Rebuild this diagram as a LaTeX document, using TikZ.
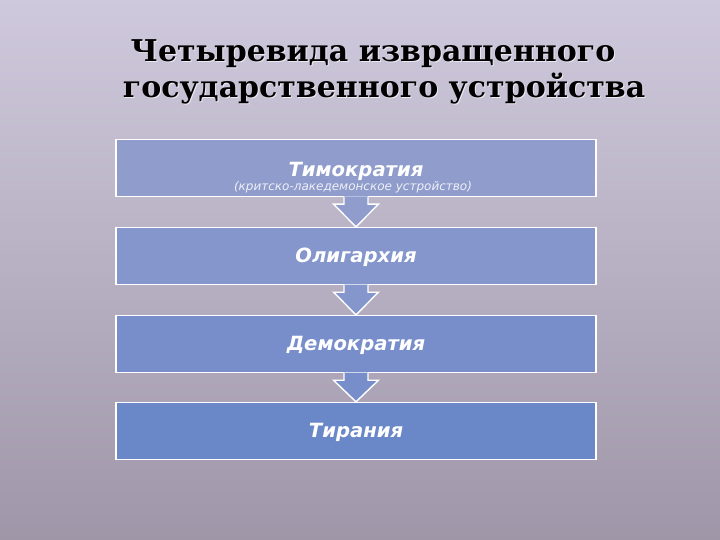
\documentclass[tikz,border=0pt]{standalone}
\usepackage{fontspec}
\setmainfont{DejaVu Serif}
\setsansfont{DejaVu Sans}
\usetikzlibrary{calc}

\definecolor{bgtop}{HTML}{CFC9DD}
\definecolor{bgbot}{HTML}{9F97A8}
\definecolor{stageA}{HTML}{8F9CCC}
\definecolor{stageB}{HTML}{8496CB}
\definecolor{stageC}{HTML}{778ECB}
\definecolor{stageD}{HTML}{6A87C8}

\begin{document}
\begin{tikzpicture}[x=1pt, y=-1pt,
  stage/.style={draw=white, line width=1.4pt, minimum width=480pt, minimum height=57pt,
    inner sep=0pt, text=white, font=\sffamily\bfseries\itshape\fontsize{19.6}{21}\selectfont},
  flow/.style={draw=white, line width=1.4pt, line join=miter},
  heading/.style={font=\rmfamily\bfseries\fontsize{30}{32}\selectfont, inner sep=0pt, anchor=base}]

\path[top color=bgtop, bottom color=bgbot] (0,0) rectangle (720,540);
\useasboundingbox (0,0) rectangle (720,540);

\node[heading, text=white!60!bgtop] (title1s) at (374,63) {Четыревида извращенного};
\node[heading, text=white!60!bgtop] (title2s) at (385,99) {государственного устройства};
\node[heading] (title1) at (373,62) {Четыревида извращенного};
\node[heading] (title2) at (384,98) {государственного устройства};

\node[stage, fill=stageA, text height=18pt, text depth=0pt] (timo) at (356,168) {Тимократия};
\node[stage, fill=stageB, text height=16pt, text depth=4pt] (olig) at (356,256) {Олигархия};
\node[stage, fill=stageC, text height=16pt, text depth=4pt] (demo) at (356,344) {Демократия};
\node[stage, fill=stageD, text height=16pt, text depth=4pt] (tyr) at (356,431) {Тирания};
\node[text=white!85!stageA, font=\sffamily\itshape\fontsize{12}{14}\selectfont] (timonote) at (353,187) {(критско-лакедемонское устройство)};

\fill[stageA] ($(timo.south)+(-12,-0.7)$) -- ($(timo.south)+(-12,7)$) -- ($(timo.south)+(-22.5,7)$)
  -- (olig.north) -- ($(timo.south)+(22.5,7)$) -- ($(timo.south)+(12,7)$) -- ($(timo.south)+(12,-0.7)$) -- cycle;
\draw[flow] ($(timo.south)+(-12,0)$) -- ($(timo.south)+(-12,7)$) -- ($(timo.south)+(-22.5,7)$)
  -- (olig.north) -- ($(timo.south)+(22.5,7)$) -- ($(timo.south)+(12,7)$) -- ($(timo.south)+(12,0)$);

\fill[stageB] ($(olig.south)+(-12,-0.7)$) -- ($(olig.south)+(-12,7)$) -- ($(olig.south)+(-22.5,7)$)
  -- (demo.north) -- ($(olig.south)+(22.5,7)$) -- ($(olig.south)+(12,7)$) -- ($(olig.south)+(12,-0.7)$) -- cycle;
\draw[flow] ($(olig.south)+(-12,0)$) -- ($(olig.south)+(-12,7)$) -- ($(olig.south)+(-22.5,7)$)
  -- (demo.north) -- ($(olig.south)+(22.5,7)$) -- ($(olig.south)+(12,7)$) -- ($(olig.south)+(12,0)$);

\fill[stageC] ($(demo.south)+(-12,-0.7)$) -- ($(demo.south)+(-12,7)$) -- ($(demo.south)+(-22.5,7)$)
  -- (tyr.north) -- ($(demo.south)+(22.5,7)$) -- ($(demo.south)+(12,7)$) -- ($(demo.south)+(12,-0.7)$) -- cycle;
\draw[flow] ($(demo.south)+(-12,0)$) -- ($(demo.south)+(-12,7)$) -- ($(demo.south)+(-22.5,7)$)
  -- (tyr.north) -- ($(demo.south)+(22.5,7)$) -- ($(demo.south)+(12,7)$) -- ($(demo.south)+(12,0)$);
\end{tikzpicture}
\end{document}
